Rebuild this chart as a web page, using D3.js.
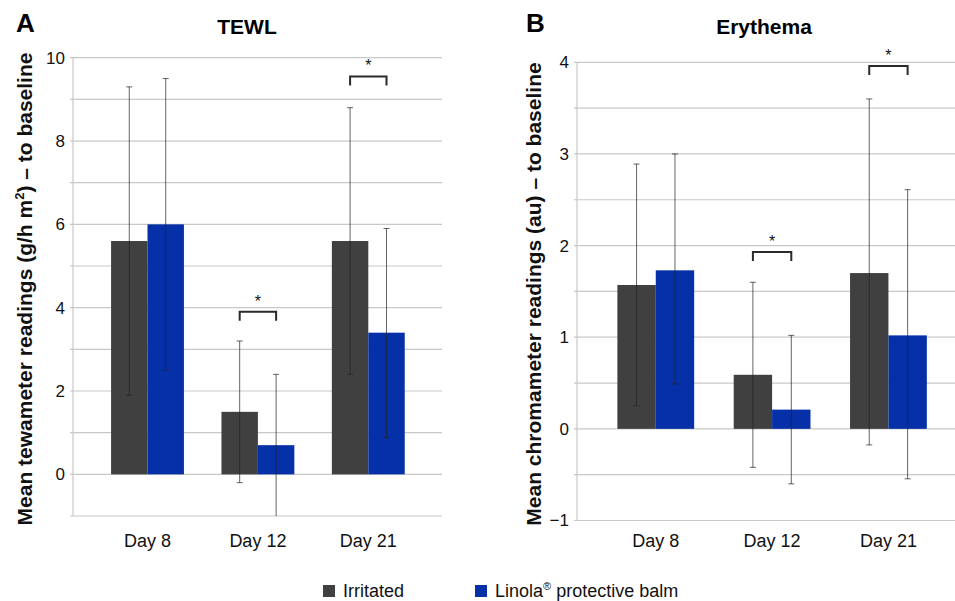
<!DOCTYPE html>
<html>
<head>
<meta charset="utf-8">
<script src="https://cdn.jsdelivr.net/npm/d3@7"></script>
<style>
  body { margin: 0; background: #fff; }
  svg { font-family: "Liberation Sans", Arial, sans-serif; }
</style>
</head>
<body>
<svg id="chart" width="955" height="601"></svg>
<script>
const days = ['Day 8', 'Day 12', 'Day 21'];
const groups = ['Irritated', 'Linola'];

// TEWL (panel A)
const tewlIrritated = [5.6, 1.5, 5.6];
const tewlIrritatedHi = [9.3, 3.2, 8.8];
const tewlIrritatedLo = [1.9, -0.2, 2.4];
const tewlLinola = [6.0, 0.7, 3.4];
const tewlLinolaHi = [9.5, 2.4, 5.9];
const tewlLinolaLo = [2.5, -1.0, 0.88];
const tewlSig = [{ day: 'Day 12', y: 3.9 }, { day: 'Day 21', y: 9.55 }];

// Erythema (panel B)
const eryIrritated = [1.57, 0.59, 1.70];
const eryIrritatedHi = [2.89, 1.6, 3.6];
const eryIrritatedLo = [0.25, -0.42, -0.175];
const eryLinola = [1.73, 0.21, 1.02];
const eryLinolaHi = [3.0, 1.02, 2.61];
const eryLinolaLo = [0.49, -0.6, -0.545];
const erySig = [{ day: 'Day 12', y: 1.93 }, { day: 'Day 21', y: 3.96 }];

const colour = d3.scaleOrdinal().domain(groups).range(['#404040', '#0530a8']);

const svg = d3.select('#chart');

const buildRows = (irr, irrHi, irrLo, lin, linHi, linLo) =>
  days.map((day, i) => ({
    day,
    values: [
      { key: 'Irritated', v: irr[i], hi: irrHi[i], lo: irrLo[i] },
      { key: 'Linola', v: lin[i], hi: linHi[i], lo: linLo[i] }
    ]
  }));

const panel = (opts) => {
  const { rows, sig, yDomain, gridStep, tickVals, left, right, top, bottom, bandRange,
          title, titleX, letter, letterX, yTitle, yTitleX, yTitleY } = opts;
  const g = svg.append('g');

  const y = d3.scaleLinear().domain(yDomain).range([bottom, top]);
  const x = d3.scaleBand().domain(days).range(bandRange).paddingInner(0.34).paddingOuter(0.17);
  const xi = d3.scaleBand().domain(groups).range([0, x.bandwidth()]);

  // gridlines
  g.append('g').selectAll('line')
    .data(d3.range(yDomain[0], yDomain[1] + gridStep / 2, gridStep))
    .join('line')
    .attr('x1', left - 3).attr('x2', right)
    .attr('y1', d => y(d)).attr('y2', d => y(d))
    .attr('stroke', '#c8c8c8').attr('stroke-width', 1.2);

  g.append('line')
    .attr('x1', left).attr('x2', left).attr('y1', top).attr('y2', bottom)
    .attr('stroke', '#c8c8c8').attr('stroke-width', 1.2);

  // tick labels
  g.append('g').selectAll('text')
    .data(tickVals)
    .join('text')
    .attr('x', left - 8).attr('y', d => y(d))
    .attr('dy', '0.35em').attr('text-anchor', 'end')
    .attr('font-size', 17).attr('fill', '#111')
    .text(d => d < 0 ? '\u2212' + Math.abs(d) : d);

  // bars
  const grp = g.append('g').selectAll('g')
    .data(rows)
    .join('g')
    .attr('transform', d => `translate(${x(d.day)},0)`);

  grp.selectAll('rect')
    .data(d => d.values)
    .join('rect')
    .attr('x', d => xi(d.key)).attr('width', xi.bandwidth())
    .attr('y', d => y(Math.max(0, d.v)))
    .attr('height', d => Math.abs(y(d.v) - y(0)))
    .attr('fill', d => colour(d.key));

  // error bars
  const err = grp.selectAll('g.err')
    .data(d => d.values)
    .join('g').attr('class', 'err')
    .attr('transform', d => `translate(${xi(d.key) + xi.bandwidth() / 2},0)`);
  err.append('line')
    .attr('y1', d => y(d.hi)).attr('y2', d => y(Math.max(yDomain[0], d.lo)))
    .attr('stroke', '#222').attr('stroke-opacity', 0.7).attr('stroke-width', 1);
  err.append('line')
    .attr('x1', -3).attr('x2', 3).attr('y1', d => y(d.hi)).attr('y2', d => y(d.hi))
    .attr('stroke', '#222').attr('stroke-opacity', 0.7);
  err.filter(d => d.lo > yDomain[0]).append('line')
    .attr('x1', -3).attr('x2', 3).attr('y1', d => y(d.lo)).attr('y2', d => y(d.lo))
    .attr('stroke', '#222').attr('stroke-opacity', 0.7);

  // significance brackets
  const br = g.append('g').selectAll('g')
    .data(sig)
    .join('g');
  br.append('path')
    .attr('d', d => {
      const x1 = x(d.day) + xi('Irritated') + xi.bandwidth() / 2;
      const x2 = x(d.day) + xi('Linola') + xi.bandwidth() / 2;
      const yy = y(d.y);
      return `M${x1},${yy + 9}V${yy}H${x2}V${yy + 9}`;
    })
    .attr('fill', 'none').attr('stroke', '#2a2a2a').attr('stroke-width', 2);
  br.append('text')
    .attr('x', d => x(d.day) + x.bandwidth() / 2)
    .attr('y', d => y(d.y) - 5)
    .attr('text-anchor', 'middle').attr('font-size', 16).attr('fill', '#111')
    .text('*');

  // x labels
  g.append('g').selectAll('text')
    .data(days)
    .join('text')
    .attr('x', d => x(d) + x.bandwidth() / 2)
    .attr('y', 547)
    .attr('text-anchor', 'middle').attr('font-size', 18).attr('fill', '#111')
    .text(d => d);

  // titles
  g.append('text')
    .attr('x', titleX).attr('y', 34)
    .attr('text-anchor', 'middle').attr('font-size', 21).attr('font-weight', 'bold')
    .text(title);
  g.append('text')
    .attr('x', letterX).attr('y', 32)
    .attr('font-size', 26).attr('font-weight', 'bold')
    .text(letter);

  const yt = g.append('text')
    .attr('transform', `translate(${yTitleX},${yTitleY}) rotate(-90)`)
    .attr('text-anchor', 'middle').attr('font-size', 21).attr('font-weight', 'bold')
    .attr('fill', '#111');
  yTitle(yt);
};

panel({
  rows: buildRows(tewlIrritated, tewlIrritatedHi, tewlIrritatedLo, tewlLinola, tewlLinolaHi, tewlLinolaLo),
  sig: tewlSig,
  yDomain: [-1, 10], gridStep: 1, tickVals: [0, 2, 4, 6, 8, 10],
  left: 73, right: 442, top: 57.7, bottom: 516,
  bandRange: [92.3, 423.5],
  title: 'TEWL', titleX: 247, letter: 'A', letterX: 16,
  yTitleX: 32, yTitleY: 289,
  yTitle: t => {
    t.append('tspan').text('Mean tewameter readings (g/h m');
    t.append('tspan').attr('font-size', 13).attr('dy', -8).text('2');
    t.append('tspan').attr('dy', 8).text(') \u2013 to baseline');
  }
});

panel({
  rows: buildRows(eryIrritated, eryIrritatedHi, eryIrritatedLo, eryLinola, eryLinolaHi, eryLinolaLo),
  sig: erySig,
  yDomain: [-1, 4], gridStep: 0.5, tickVals: [-1, 0, 1, 2, 3, 4],
  left: 577, right: 955, top: 62.3, bottom: 520.5,
  bandRange: [597.6, 946.6],
  title: 'Erythema', titleX: 764, letter: 'B', letterX: 526,
  yTitleX: 541, yTitleY: 294,
  yTitle: t => t.text('Mean chromameter readings (au) \u2013 to baseline')
});

// legend
const legendItems = [
  { key: 'Irritated', x: 323, label: 'Irritated' },
  { key: 'Linola', x: 475, label: null }
];
const lg = svg.append('g').selectAll('g')
  .data(legendItems)
  .join('g')
  .attr('transform', d => `translate(${d.x},585)`);
lg.append('rect')
  .attr('width', 12).attr('height', 12)
  .attr('fill', d => colour(d.key));
const lt = lg.append('text')
  .attr('x', 20).attr('y', 12)
  .attr('font-size', 18).attr('fill', '#111');
lt.filter(d => d.label).text(d => d.label);
lt.filter(d => !d.label).each(function () {
  const t = d3.select(this);
  t.append('tspan').text('Linola');
  t.append('tspan').attr('font-size', 11).attr('dy', -7).text('\u00ae');
  t.append('tspan').attr('dy', 7).text(' protective balm');
});
</script>
</body>
</html>
